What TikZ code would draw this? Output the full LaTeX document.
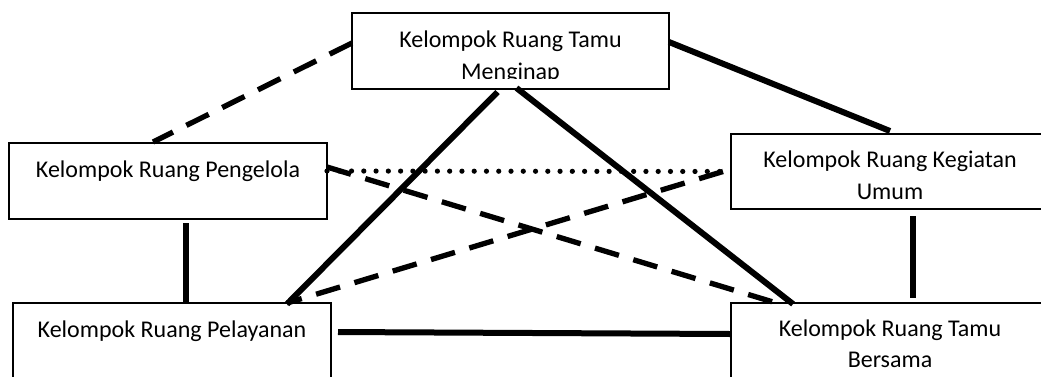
\documentclass[tikz,border=0pt]{standalone}
\usepackage{fontspec}
\setmainfont{Carlito}
\usetikzlibrary{calc}
\begin{document}
\begin{tikzpicture}[x=0.75pt,y=-0.75pt,
  box/.style={draw=black, line width=1.2pt, fill=white, inner sep=0pt, outer sep=0pt,
    minimum width=238.5pt, minimum height=57pt},
  lbl/.style={anchor=base, inner sep=0pt, font=\fontsize{18}{22}\selectfont},
  solidc/.style={line width=4.5pt},
  dashc/.style={line width=4pt, dash pattern=on 18.75pt off 11.25pt},
  dotc/.style={line width=3.9pt, line cap=round, dash pattern=on 0pt off 9.2pt}]
\useasboundingbox (0,0) rectangle (1041,376);
% boxes
\node[box, minimum width=237.75pt] (top) at (510.5,51) {};
\node[box] (left) at (168,181) {};
\node[box, minimum height=56.25pt] (right) at (890,171.5) {};
\node[box] (bl) at (172,341) {};
\node[box] (br) at (890,341) {};
% texts
\begin{scope}
\clip (352,13) rectangle (669,78);
\node[lbl] (top1) at (510.5,47) {Kelompok Ruang Tamu};
\node[lbl] (top2) at (510.5,79) {Menginap};
\end{scope}
\node[lbl] (left1) at (168,177) {Kelompok Ruang Pengelola};
\node[lbl] (right1) at (890,167.5) {Kelompok Ruang Kegiatan};
\node[lbl] (right2) at (890,199) {Umum};
\node[lbl] (bl1) at (172,337.5) {Kelompok Ruang Pelayanan};
\node[lbl] (br1) at (890,336) {Kelompok Ruang Tamu};
\node[lbl] (br2) at (890,367.5) {Bersama};
% connectors
\draw[dashc] ($(top.west)+(0,-8)$) -- ($(left.north)+(-15,-1)$);
\draw[solidc] ($(top.east)+(0,-9)$) -- ($(right.north)+(0,-3)$);
\draw[solidc] ($(top.south)+(-13,3)$) -- ($(bl.north)+(115,1)$);
\draw[solidc] ($(top.south)+(6,-1)$) -- ($(br.north)+(-97,1)$);
\draw[dotc] ($(left.east)+(0,-10)$) -- ($(right.west)+(-5,0)$);
\draw[dashc] ($(left.east)+(0,-14)$) -- ($(br.north)+(-107,2)$);
\draw[dashc] ($(right.west)+(-8,0)$) -- ($(bl.north)+(115,0)$);
\draw[solidc] ($(left.south)+(18,4)$) -- ($(bl.north)+(14,0)$);
\draw[solidc] ($(right.south)+(23,7)$) -- ($(br.north)+(23,-5)$);
\draw[solidc] ($(bl.east)+(7,-9)$) -- ($(br.west)+(0,-7)$);
\end{tikzpicture}
\end{document}
